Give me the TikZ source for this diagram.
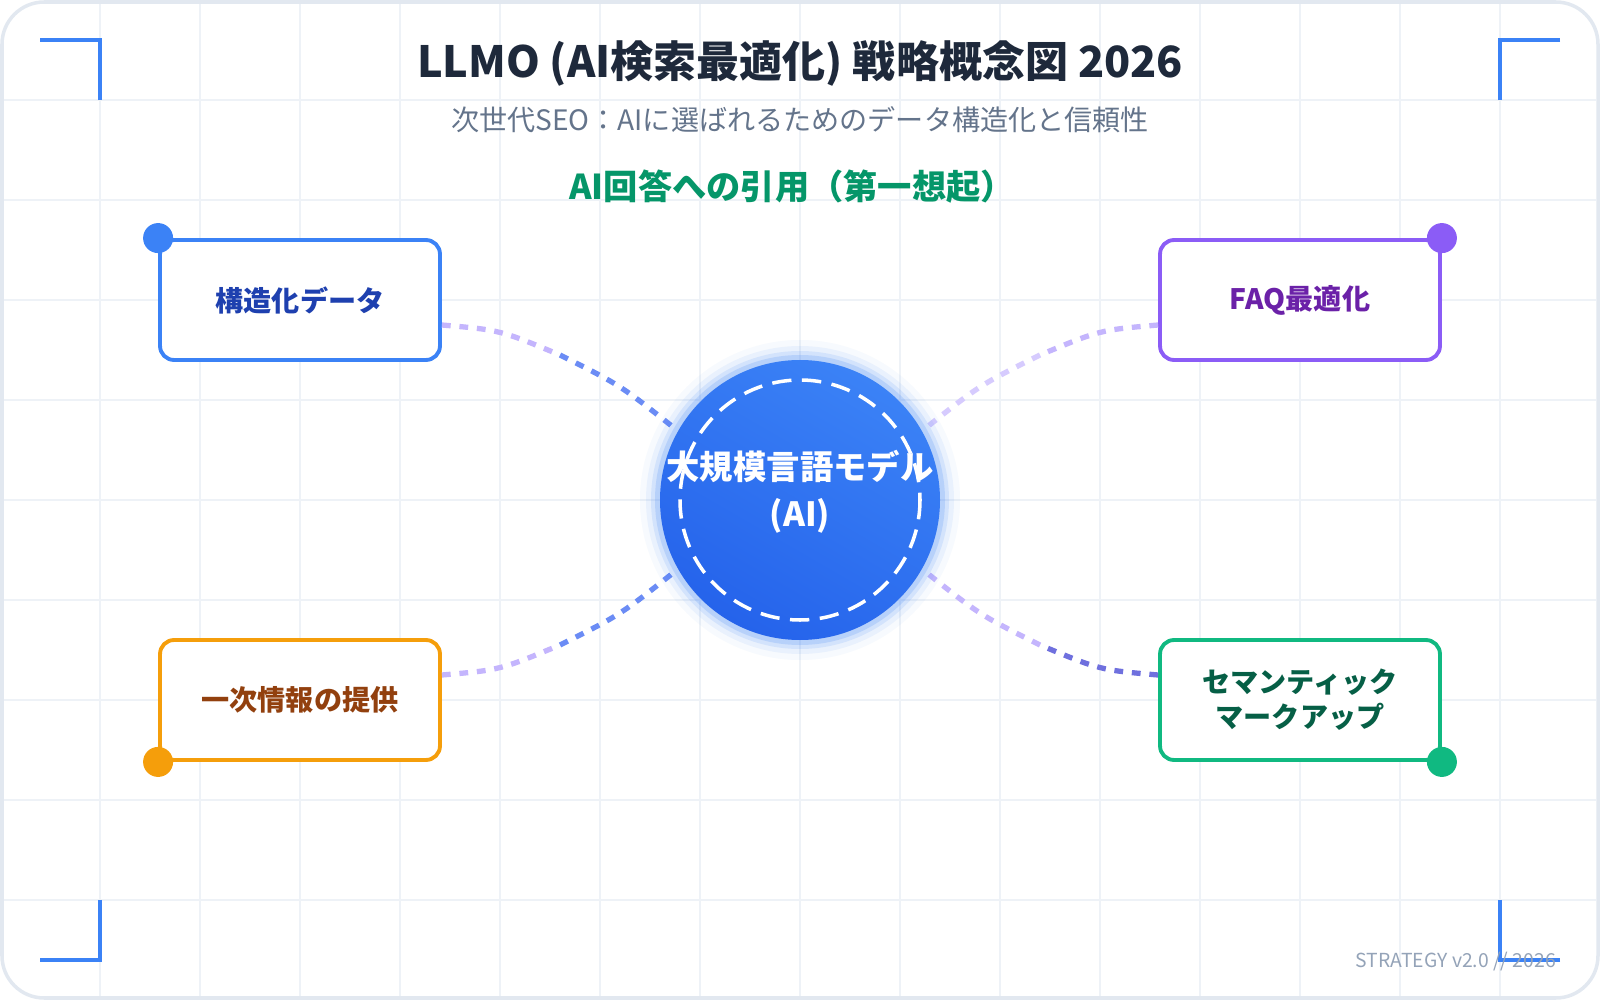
\documentclass[tikz,border=0pt]{standalone}
\usepackage{fontspec}
\setmainfont{Noto Sans CJK JP}
\usetikzlibrary{positioning}
\definecolor{inkdark}{HTML}{1E293B}
\definecolor{inkgray}{HTML}{64748B}
\definecolor{footgray}{HTML}{94A3B8}
\definecolor{gridc}{HTML}{EEF2F7}
\definecolor{framec}{HTML}{E2E8F0}
\definecolor{accblue}{HTML}{3B82F6}
\definecolor{deepblue}{HTML}{2563EB}
\definecolor{accpurple}{HTML}{8B5CF6}
\definecolor{accorange}{HTML}{F59E0B}
\definecolor{accgreen}{HTML}{10B981}
\definecolor{titlegreen}{HTML}{059669}
\definecolor{txtblue}{HTML}{1E40AF}
\definecolor{txtpurple}{HTML}{6B21A8}
\definecolor{txtorange}{HTML}{92400E}
\definecolor{txtgreen}{HTML}{065F46}
\definecolor{linkblue}{HTML}{6B8CF5}
\definecolor{linklight}{HTML}{C4B5FD}
\tikzset{
  topic/.style={draw, line width=2.2pt, rounded corners=8pt, fill=white,
    minimum width=5.6cm, minimum height=2.4cm, align=center,
    font=\fontsize{16}{19}\selectfont\bfseries},
  pin/.style={circle, fill=#1, inner sep=0pt, minimum size=0.6cm},
  link/.style={line width=3pt, dash pattern=on 5pt off 5pt},
  bracket/.style={accblue, line width=2.4pt}
}
\begin{document}
\begin{tikzpicture}[x=0.02cm, y=-0.02cm]
  \useasboundingbox (0,0) rectangle (1600,1000);
  \draw[framec, line width=2pt, fill=white, rounded corners=24pt] (2,2) rectangle (1598,998);
  % grid
  \foreach \i in {100,200,...,1500} \draw[gridc, line width=0.9pt] (\i,4) -- (\i,996);
  \foreach \j in {100,200,...,900} \draw[gridc, line width=0.9pt] (4,\j) -- (1596,\j);
  % corner marks
  \draw[bracket] (40,40) -- (100,40) -- (100,100);
  \draw[bracket] (1560,40) -- (1500,40) -- (1500,100);
  \draw[bracket] (40,960) -- (100,960) -- (100,900);
  \draw[bracket] (1560,960) -- (1500,960) -- (1500,900);

  % titles
  \node[inkdark, font=\fontsize{24.5}{28}\selectfont\bfseries] (title) at (800,63) {LLMO (AI検索最適化) 戦略概念図 2026};
  \node[inkgray, font=\fontsize{16}{18}\selectfont] (subtitle) at (800,120) {次世代SEO：AIに選ばれるためのデータ構造化と信頼性};
  \node[titlegreen, font=\fontsize{19.5}{22}\selectfont\bfseries] (goal) at (792,187) {AI回答への引用（第一想起）};

  % topics
  \node[topic, draw=accblue, text=txtblue] (data) at (300,300) {構造化データ};
  \node[topic, draw=accpurple, text=txtpurple] (faq) at (1300,300) {FAQ最適化};
  \node[topic, draw=accorange, text=txtorange] (first) at (300,700) {一次情報の提供};
  \node[topic, draw=accgreen, text=txtgreen] (sem) at (1300,700) {セマンティック\\[1pt]マークアップ};

  \node[pin=accblue] (pa) at (data.north west) {};
  \node[pin=accpurple] (pb) at (faq.north east) {};
  \node[pin=accorange] (pc) at (first.south west) {};
  \node[pin=accgreen] (pd) at (sem.south east) {};

  % links
  \coordinate (ca) at (673,427);
  \coordinate (cb) at (927,427);
  \coordinate (cc) at (673,573);
  \coordinate (cd) at (927,573);
  \coordinate (ma) at (560,355);
  \coordinate (mb) at (1040,355);
  \coordinate (mc) at (560,645);
  \coordinate (md) at (1040,645);
  \draw[link, linklight] ([yshift=-0.5cm]data.east) .. controls (500,330) .. (ma);
  \draw[link, linkblue] (ma) .. controls (620,385) .. (ca);
  \draw[link, linklight] ([yshift=-0.5cm]faq.west) .. controls (1100,330) .. (mb);
  \draw[link, linklight!70] (mb) .. controls (980,385) .. (cb);
  \draw[link, linklight] ([yshift=0.5cm]first.east) .. controls (500,670) .. (mc);
  \draw[link, linkblue] (mc) .. controls (620,615) .. (cc);
  \draw[link, linkblue!80!violet] ([yshift=0.5cm]sem.west) .. controls (1100,670) .. (md);
  \draw[link, linklight] (md) .. controls (980,615) .. (cd);

  % core
  \foreach \r/\o in {160/0.04,154/0.07,149/0.12,145/0.18}
    \fill[accblue, opacity=\o] (800,500) circle (\r);
  \shade[top color=accblue, bottom color=deepblue, shading angle=-30] (800,500) circle (140);
  \draw[white, line width=2pt, dash pattern=on 11pt off 6pt] (800,500) circle (120);
  \node[white, align=center, font=\fontsize{19}{27}\selectfont\bfseries] (core) at (800,492) {大規模言語モデル\\(AI)};

  \node[anchor=east, text=footgray, font=\fontsize{11}{12}\selectfont] (foot) at (1562,962) {STRATEGY v2.0 // 2026};
\end{tikzpicture}
\end{document}
